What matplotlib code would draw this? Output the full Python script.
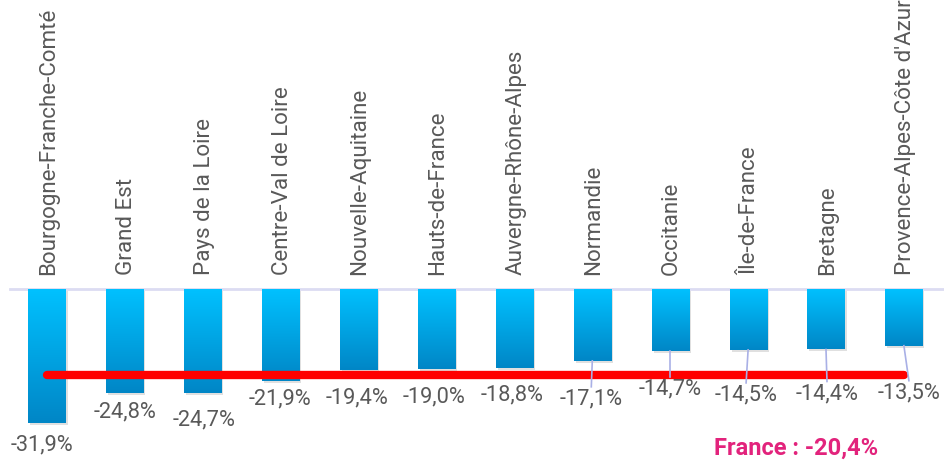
import numpy as np
import matplotlib
matplotlib.use("Agg")
from matplotlib import pyplot as plt
from matplotlib.patches import Rectangle
from matplotlib.colors import LinearSegmentedColormap

regions = [
    "Bourgogne-Franche-Comté", "Grand Est", "Pays de la Loire",
    "Centre-Val de Loire", "Nouvelle-Aquitaine", "Hauts-de-France",
    "Auvergne-Rhône-Alpes", "Normandie", "Occitanie", "Île-de-France",
    "Bretagne", "Provence-Alpes-Côte d'Azur",
]
values = [-31.9, -24.8, -24.7, -21.9, -19.4, -19.0, -18.8, -17.1, -14.7, -14.5, -14.4, -13.5]
france = -20.4

# label placement below each bar (pixels) : (dx, dy)
label_off = [(-5, 22), (0, 19), (1, 27), (-1, 18), (-2, 27), (-2, 28), (-2, 27),
             (-1, 38), (0, 38), (-2, 45), (1, 44), (5, 47)]

plt.rcParams["font.family"] = ["Roboto", "DejaVu Sans"]

fig = plt.figure(figsize=(9.44, 4.61), dpi=100)
ax = fig.add_axes([0, 0, 1, 1])
px_x = 77.9          # pixels per category
px_y = 4.2           # pixels per percent
ax.set_xlim(-47 / px_x, (944 - 47) / px_x)
ax.set_ylim(-(461 - 289) / px_y, 289 / px_y)
ax.axis("off")

cmap = LinearSegmentedColormap.from_list("bar", ["#0086c6", "#00c1ff"])
grad = np.linspace(0, 1, 256).reshape(-1, 1)
width = 0.475
x = np.arange(len(values))

# baseline
ax.plot([(10 - 47) / px_x, (944 - 47) / px_x], [0, 0], color="#dcdcf2", lw=2, zorder=1)

for i, v in enumerate(values):
    # shadow
    sh = Rectangle((i - width / 2 + 2 / px_x, v - 2 / px_y), width, -v,
                   color="#000000", alpha=0.12, lw=0, zorder=2)
    ax.add_patch(sh)
    im = ax.imshow(grad, cmap=cmap, aspect="auto", origin="lower",
                   extent=[i - width / 2, i + width / 2, v, 0], zorder=3)
    rect = Rectangle((i - width / 2, v), width, -v, fill=False, lw=0)
    ax.add_patch(rect)
    im.set_clip_path(rect)

# France average line
ax.plot([x[0], x[-1]], [france, france], color="#ff0000", lw=6,
        solid_capstyle="round", zorder=4)

for i, (v, (dx, dy)) in enumerate(zip(values, label_off)):
    lx = i + dx / px_x
    ly = v - dy / px_y
    if dy > 35:
        ax.plot([i, lx], [v, ly + 12 / px_y], color="#a9b0e6", lw=1.2, zorder=5)
    ax.text(lx, ly, f"{v:.1f}%".replace(".", ","), ha="center", va="center",
            fontsize=15.7, color="#595959", zorder=6)
    ax.text(i + 1.5 / px_x, 14 / px_y, regions[i], rotation=90, ha="center", va="bottom",
            fontsize=16.1, color="#595959")

ax.text(796 / px_x - 47 / px_x, -(448 - 289) / px_y, "France : -20,4%",
        ha="center", va="center", fontsize=17, fontweight="bold", color="#e2237c")

fig.savefig("out.png", dpi=100)
